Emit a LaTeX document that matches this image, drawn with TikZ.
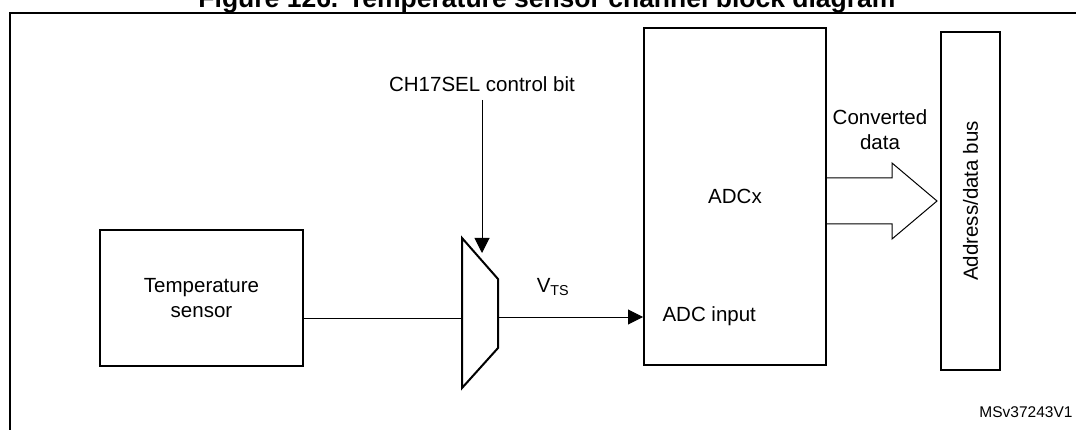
\documentclass[tikz,border=0pt]{standalone}
\usepackage{fontspec}
\setmainfont{Liberation Sans}
\usetikzlibrary{calc, positioning, arrows.meta}

\begin{document}
\begin{tikzpicture}[
					x=1pt, y=-1pt,
					blockbox/.style={
						draw,
						rectangle,
						align=center,
						inner sep=0pt,
						line width=2pt,
						font=\fontsize{20.5}{25}\selectfont
					},
					txt/.style={
						align=center,
						font=\fontsize{20.5}{25}\selectfont
					},
					sigline/.style={
						line width=1pt
					},
					sigarrow/.style={
						line width=1pt,
						-{Triangle[length=15pt, width=15pt]}
					}
					]
					
					\useasboundingbox (0,0) rectangle (1076,430);
					
					% Title and frame
					\node (title) [anchor=base, font=\fontsize{26.5}{30}\selectfont\bfseries] at (547,8) {Figure 126. Temperature sensor channel block diagram};
					\draw [line width=2pt] (1090,13) -- (10,13) -- (10,445);
					
					% Main boxes
					\node (sensor) [blockbox, minimum width=203pt, minimum height=136pt] at (201.5,298) {Temperature\\sensor};
					\node (adc) [blockbox, minimum width=182pt, minimum height=337pt] at (735,196.5) {ADCx};
					\node (bus) [blockbox, minimum width=59pt, minimum height=338pt] at (970.5,201) {};
					\node (bustext) [txt, rotate=90] at (bus.center) {Address/data bus};
					\node (adcin) [txt, anchor=west] at (659,316) {ADC input};
					
					% Multiplexer
					\draw [line width=2pt] (462,238) -- (498,279) -- (498,348) -- (462,388) -- cycle;
					\coordinate (muxin) at (462,318);
					\coordinate (muxout) at (498,317);
					\coordinate (muxsel) at (482,253);
					\coordinate (selin) at (482,100);
					\node (ctrl) [txt, inner sep=0pt, above=8pt of selin] {CH17SEL control bit};
					\node (vts) [txt] at (553,287) {V\textsubscript{TS}};
					
					% Arrows
					\draw [sigline] (sensor.east |- muxin) -- (muxin);
					\draw [sigarrow] (selin) -- (muxsel);
					\draw [sigarrow] (muxout) -- (adc.west |- muxout);
					
					% Data arrow to the bus
					\coordinate (datamid) at (adc.east |- bus.west);
					\coordinate (datatip) at ($(bus.west)+(-3,0)$);
					\draw [sigline, line join=miter] ($(datamid)+(0,-23)$) -- ($(datamid)+(65,-23)$) -- ($(datamid)+(65,-38)$) -- (datatip) -- ($(datamid)+(65,38)$) -- ($(datamid)+(65,23)$) -- ($(datamid)+(0,23)$);
					\node (convtext) [txt] at (880,130) {Converted\\data};
					
					\node (ref) [anchor=east, font=\fontsize{15.5}{18}\selectfont] at (1076,412) {MSv37243V1};
					
				\end{tikzpicture}
\end{document}
